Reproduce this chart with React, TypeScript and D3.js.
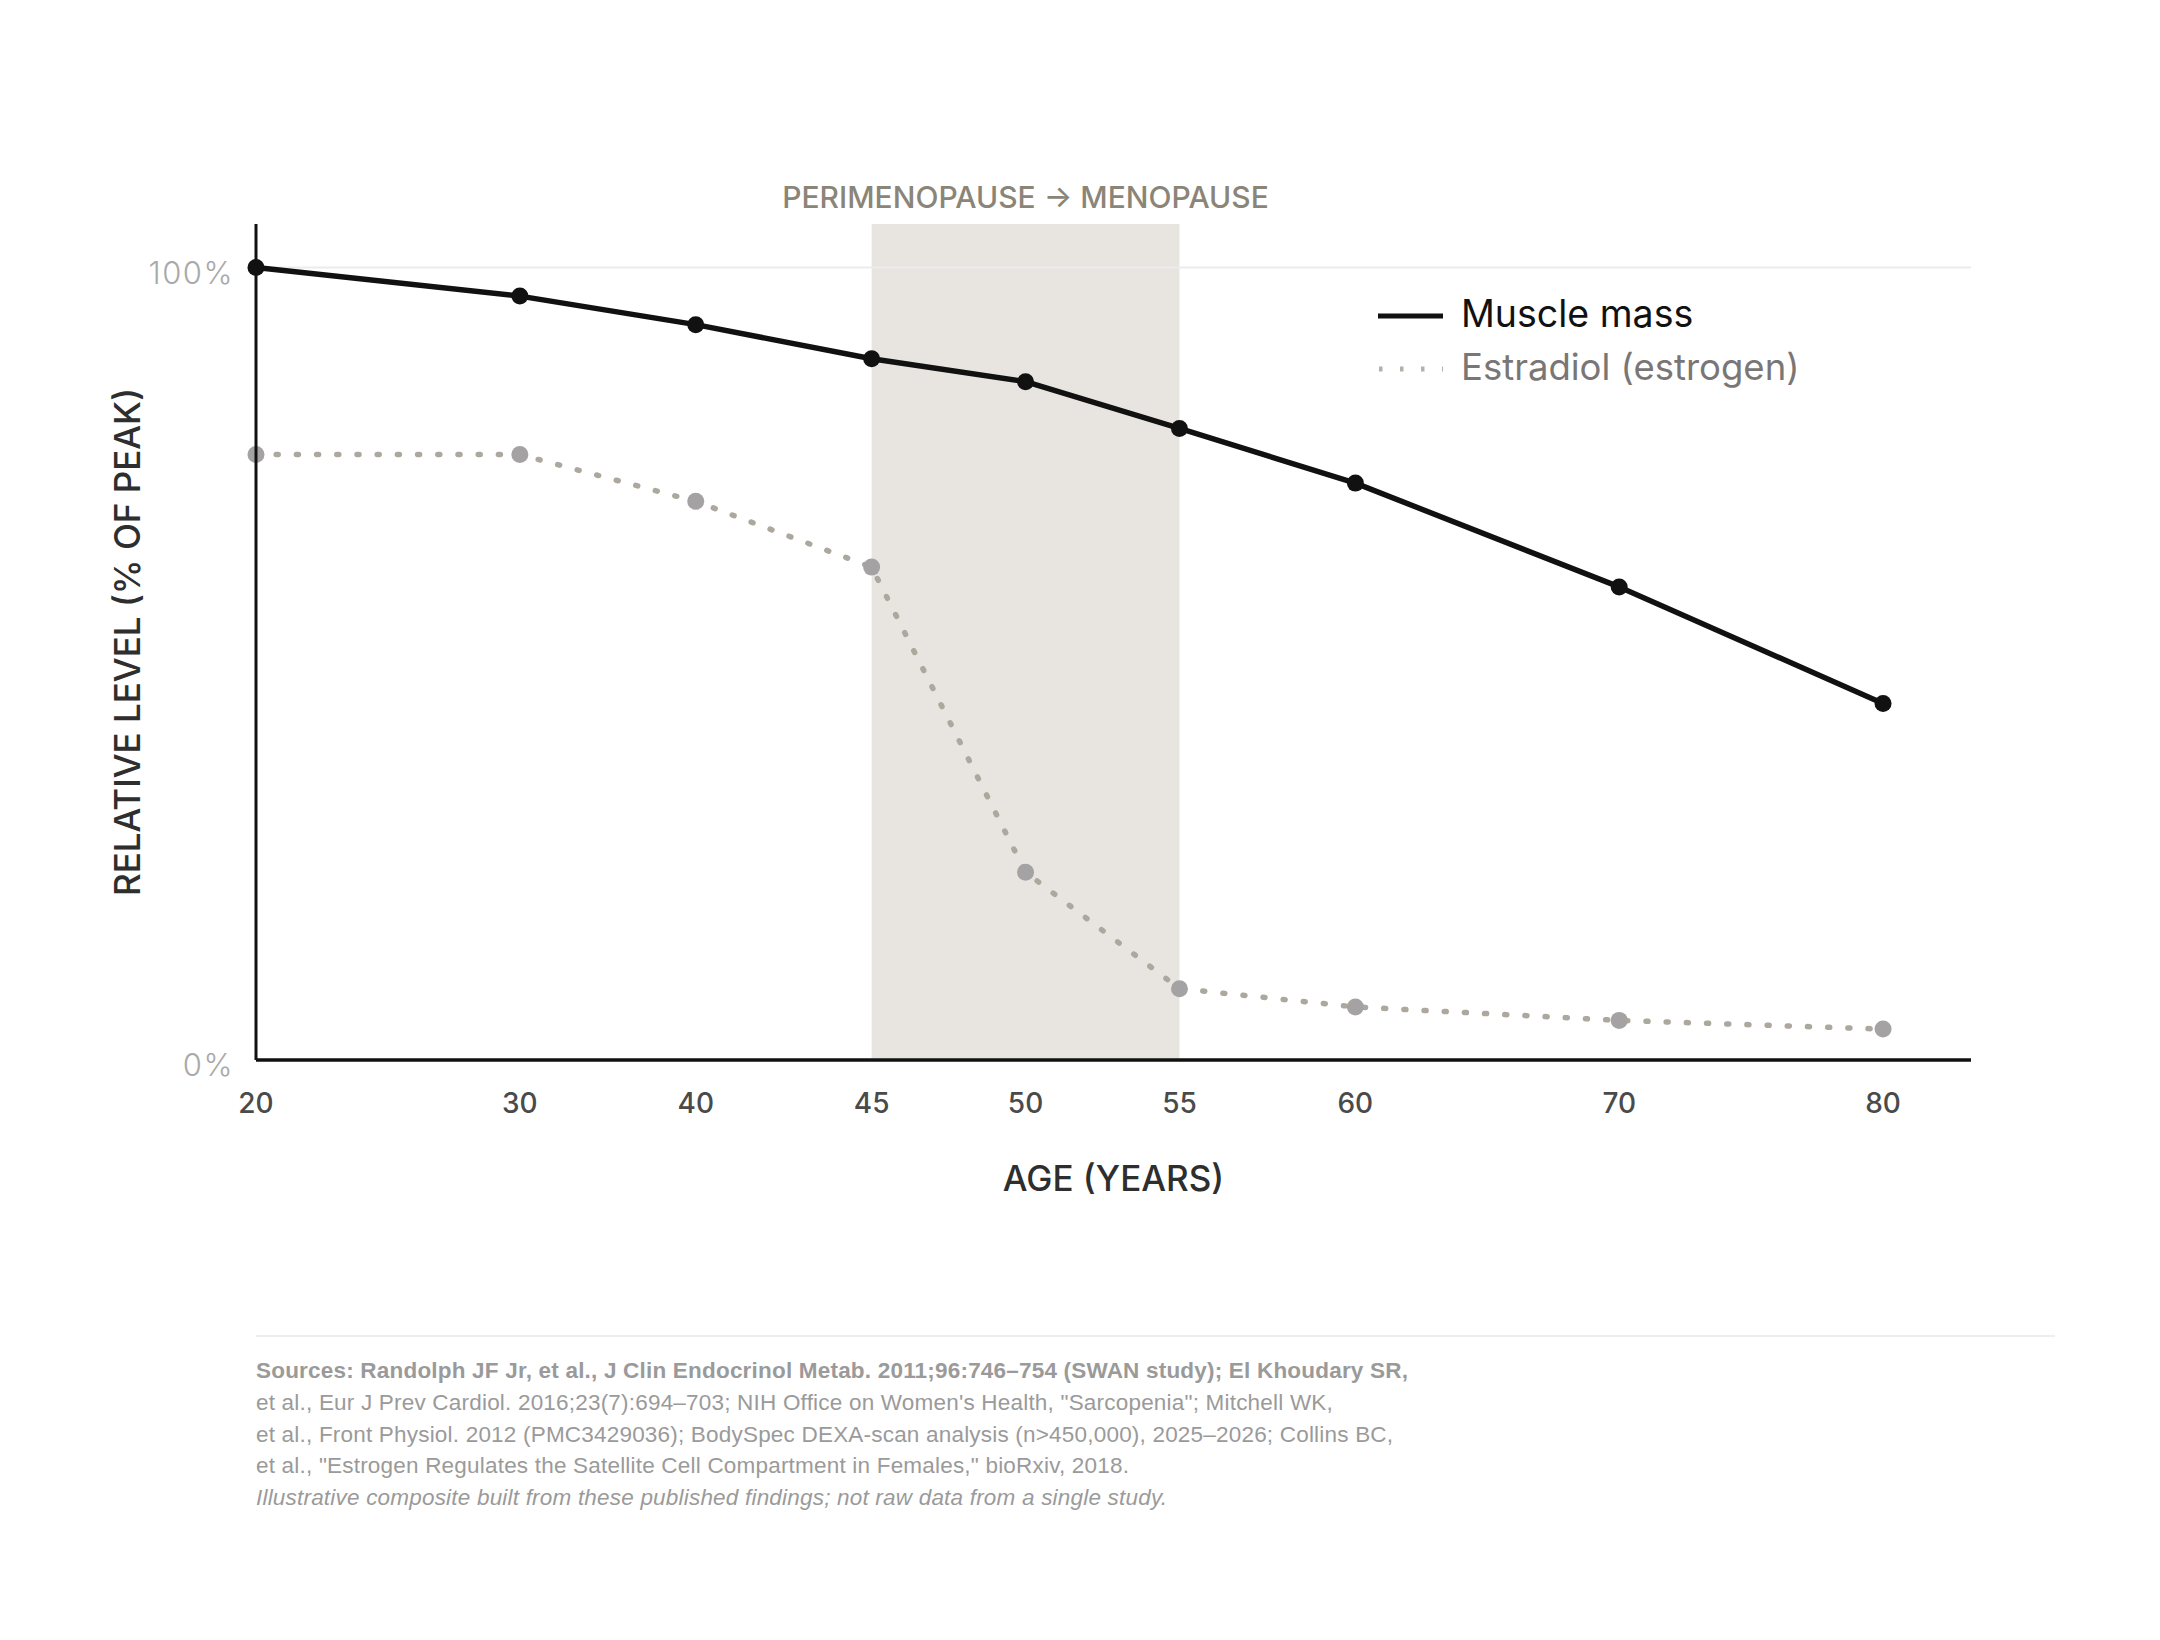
import { useEffect } from 'react'
import * as d3 from 'd3'

// ages shown on the x axis (axis is not linear: 5-year steps get more room)
const AGES = [20, 30, 40, 45, 50, 55, 60, 70, 80]
const MUSCLE = [100, 96.4, 92.8, 88.5, 85.6, 79.7, 72.8, 59.7, 45.0]
const ESTRADIOL = [76.4, 76.4, 70.5, 62.2, 23.7, 9.0, 6.7, 5.0, 3.9]
const Y_TICKS = [0, 100]
const BAND = [45, 55]

const SERIES_NAMES = ['Muscle mass', 'Estradiol (estrogen)']
const BAND_LABEL = 'PERIMENOPAUSE → MENOPAUSE'
const SOURCES = [
  'Sources: Randolph JF Jr, et al., J Clin Endocrinol Metab. 2011;96:746–754 (SWAN study); El Khoudary SR,',
  'et al., Eur J Prev Cardiol. 2016;23(7):694–703; NIH Office on Women\'s Health, "Sarcopenia"; Mitchell WK,',
  'et al., Front Physiol. 2012 (PMC3429036); BodySpec DEXA-scan analysis (n>450,000), 2025–2026; Collins BC,',
  'et al., "Estrogen Regulates the Satellite Cell Compartment in Females," bioRxiv, 2018.',
]
const NOTE = 'Illustrative composite built from these published findings; not raw data from a single study.'

const W = 2160
const H = 1640
const FONT = 'Inter, "Noto Sans", sans-serif'
const FOOT_FONT = '"Liberation Sans", Arial, sans-serif'

export default function App() {
  useEffect(() => {
    document.body.style.margin = '0'
  }, [])

  const margin = { top: 224, left: 256, right: 189, bottom: 580 }
  const plotW = W - margin.left - margin.right
  const plotH = H - margin.top - margin.bottom

  // slot positions along the axis, in units; 10-year gaps = 1.5, mid-life gaps narrower
  const slots = [0, 1.5, 2.5, 3.5, 4.375, 5.25, 6.25, 7.75, 9.25]
  const unit = plotW / 9.75
  const x = d3.scaleLinear().domain(AGES).range(slots.map(s => margin.left + s * unit))
  const y = d3.scaleLinear().domain([0, 105.5]).range([margin.top + plotH, margin.top])

  const line = d3.line<number>().x((_, i) => x(AGES[i])).y(d => y(d))

  const x0 = margin.left
  const x1 = margin.left + plotW
  const yBottom = y(0)
  const yTop = margin.top

  const legX = 1378
  const legY = 316

  return (
    <div style={{ position: 'absolute', left: 0, top: 0 }}>
      <svg width={W} height={H} viewBox={`0 0 ${W} ${H}`} style={{ display: 'block', background: '#fff' }}>
        {/* perimenopause band */}
        <rect x={x(BAND[0])} y={yTop} width={x(BAND[1]) - x(BAND[0])} height={yBottom - yTop} fill="#e8e5e0" />
        <text x={(x(BAND[0]) + x(BAND[1])) / 2} y={208} textAnchor="middle" fontFamily={FONT}
          fontSize={30} fontWeight={500} fill="#8b8578">{BAND_LABEL}</text>

        {/* gridlines + y labels */}
        {Y_TICKS.map(t => (
          <g key={t}>
            <line x1={x0} x2={x1} y1={y(t)} y2={y(t)} stroke="#ececec" strokeWidth={2} />
            <text x={x0 - 22} y={y(t) + 16} textAnchor="end" fontFamily={FONT} fontSize={31}
              fontWeight={300} letterSpacing={1.5} fill="#a9a9a9">{t}%</text>
          </g>
        ))}

        {/* estradiol */}
        <path d={line(ESTRADIOL) ?? ''} fill="none" stroke="#aca89e" strokeWidth={5.5}
          strokeLinecap="round" strokeDasharray="2 18.2" />
        {ESTRADIOL.map((v, i) => (
          <circle key={i} cx={x(AGES[i])} cy={y(v)} r={8.5} fill="#a5a2a3" />
        ))}

        {/* muscle mass */}
        <path d={line(MUSCLE) ?? ''} fill="none" stroke="#111" strokeWidth={5.5} strokeLinejoin="round" />
        {MUSCLE.map((v, i) => (
          <circle key={i} cx={x(AGES[i])} cy={y(v)} r={8.5} fill="#111" />
        ))}

        {/* axes */}
        <line x1={x0} x2={x0} y1={yTop} y2={yBottom} stroke="#111" strokeWidth={3} />
        <line x1={x0} x2={x1} y1={yBottom} y2={yBottom} stroke="#111" strokeWidth={3.5} />
        {AGES.map(a => (
          <text key={a} x={x(a)} y={1113} textAnchor="middle" fontFamily={FONT} fontSize={28}
            fontWeight={500} fill="#4a4a4a">{a}</text>
        ))}
        <text x={(x0 + x1) / 2} y={1191} textAnchor="middle" fontFamily={FONT} fontSize={35}
          fontWeight={500} fill="#2e2e2e">AGE (YEARS)</text>
        <text transform={`translate(140,${(yTop + yBottom) / 2}) rotate(-90)`} textAnchor="middle"
          fontFamily={FONT} fontSize={35} fontWeight={500} fill="#2e2e2e">RELATIVE LEVEL (% OF PEAK)</text>

        {/* legend */}
        <line x1={legX} x2={legX + 65} y1={legY} y2={legY} stroke="#111" strokeWidth={5} />
        <text x={legX + 83} y={legY + 11} fontFamily={FONT} fontSize={37.5} fill="#111">{SERIES_NAMES[0]}</text>
        <line x1={legX + 1} x2={legX + 65} y1={legY + 53} y2={legY + 53} stroke="#b5b1a9" strokeWidth={5}
          strokeDasharray="3.5 17.5" />
        <text x={legX + 83} y={legY + 64} fontFamily={FONT} fontSize={36.5} fill="#7a7676">{SERIES_NAMES[1]}</text>

        {/* footer */}
        <line x1={x0} x2={2055} y1={1336} y2={1336} stroke="#eeeeee" strokeWidth={2} />
        {SOURCES.map((s, i) => (
          <text key={i} x={x0} y={1378 + i * 31.8} fontFamily={FOOT_FONT} fontSize={22.5} letterSpacing={0.2}
            fontWeight={i === 0 ? 700 : 400} fill="#9a9a9a">{s}</text>
        ))}
        <text x={x0} y={1378 + 4 * 31.8} fontFamily={FOOT_FONT} fontSize={22.5} letterSpacing={0.2}
          fontStyle="italic" fill="#9a9a9a">{NOTE}</text>
      </svg>
    </div>
  )
}
